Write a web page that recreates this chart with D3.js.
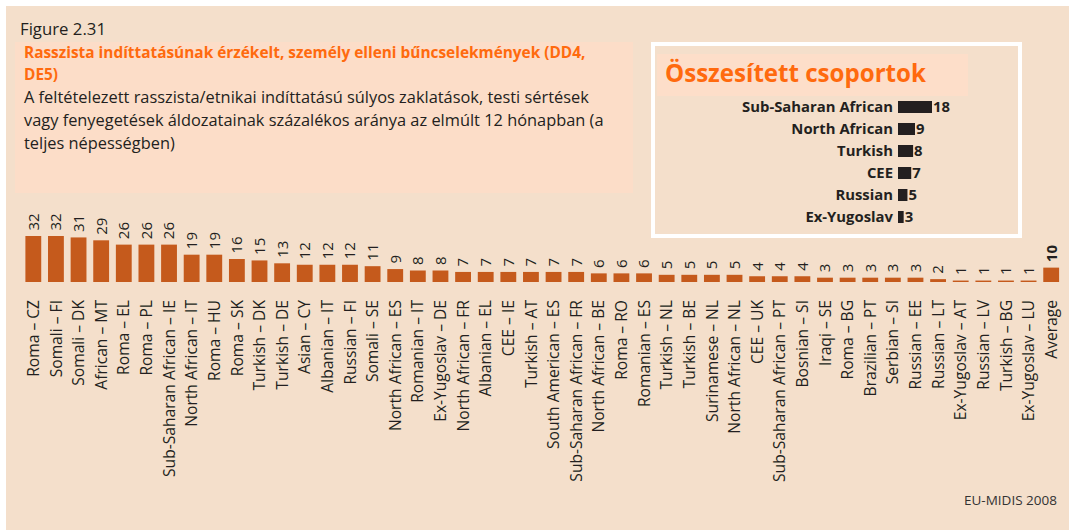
<!DOCTYPE html>
<html><head><meta charset="utf-8">
<script src="https://cdn.jsdelivr.net/npm/d3@7"></script>
<style>
html,body{margin:0;padding:0;background:#fff;}
svg{display:block;font-family:"Open Sans", Lato, sans-serif;}
</style></head>
<body>
<svg id="chart" width="1069" height="530"></svg>
<script>
const categories = ["Roma – CZ","Somali – FI","Somali – DK","African – MT","Roma – EL","Roma – PL","Sub-Saharan African – IE","North African – IT","Roma – HU","Roma – SK","Turkish – DK","Turkish – DE","Asian – CY","Albanian – IT","Russian – FI","Somali – SE","North African – ES","Romanian – IT","Ex-Yugoslav – DE","North African – FR","Albanian – EL","CEE – IE","Turkish – AT","South American – ES","Sub-Saharan African – FR","North African – BE","Roma – RO","Romanian – ES","Turkish – NL","Turkish – BE","Surinamese – NL","North African – NL","CEE – UK","Sub-Saharan African – PT","Bosnian – SI","Iraqi – SE","Roma – BG","Brazilian – PT","Serbian – SI","Russian – EE","Russian – LT","Ex-Yugoslav – AT","Russian – LV","Turkish – BG","Ex-Yugoslav – LU","Average"];
const values = [32,32,31,29,26,26,26,19,19,16,15,13,12,12,12,11,9,8,8,7,7,7,7,7,7,6,6,6,5,5,5,5,4,4,4,3,3,3,3,3,2,1,1,1,1,10];
const groupNames = ["Sub-Saharan African","North African","Turkish","CEE","Russian","Ex-Yugoslav"];
const groupValues = [18,9,8,7,5,3];
const figureLabel = "Figure 2.31";
const titleLines = ["Rasszista indíttatásúnak érzékelt, személy elleni bűncselekmények (DD4,","DE5)"];
const subtitleLines = ["A feltételezett rasszista/etnikai indíttatású súlyos zaklatások, testi sértések","vagy fenyegetések áldozatainak százalékos aránya az elmúlt 12 hónapban (a","teljes népességben)"];
const insetTitle = "Összesített csoportok";
const sourceText = "EU-MIDIS 2008";

const svg = d3.select("#chart");
const BG = "#F4DFCB", PANEL = "#FCDDC8", BAR = "#C55A1C", ORANGE = "#FF6A0E", INK = "#231F20";

function fit(sel, target){
  const w = sel.node().getComputedTextLength();
  const fs = parseFloat(sel.attr("font-size"));
  const nfs = fs*target/w;
  sel.attr("font-size", nfs);
  return nfs;
}

svg.append("rect").attr("x",6).attr("y",6).attr("width",1063).attr("height",524).attr("fill",BG);

// Title block
svg.append("rect").attr("x",15).attr("y",42).attr("width",618).attr("height",151).attr("fill",PANEL);
const fig = svg.append("text").attr("x",20).attr("y",35).attr("font-size",18).attr("fill",INK).text(figureLabel);
fit(fig, 86);
const tl = titleLines.map((t,i)=>svg.append("text").attr("x",24).attr("y",58+i*22).attr("font-size",16)
  .attr("font-weight","bold").attr("fill",ORANGE).text(t));
const tfs = fit(tl[0], 562); tl.forEach(s=>s.attr("font-size",tfs));
const sl = subtitleLines.map((t,i)=>svg.append("text").attr("x",24).attr("y",103+i*23).attr("font-size",16)
  .attr("fill",INK).text(t));
const sfs = fit(sl[0], 565); sl.forEach(s=>s.attr("font-size",sfs));

// Main bars
const x = d3.scaleBand().domain(categories).range([22,1062.5]).paddingInner(0.3).paddingOuter(0.15);
const y = d3.scaleLinear().domain([0,32]).range([282,236]);

svg.append("g").selectAll("rect").data(categories).join("rect")
  .attr("x",d=>x(d)).attr("y",(d,i)=>y(values[i])).attr("width",x.bandwidth())
  .attr("height",(d,i)=>y(0)-y(values[i])).attr("fill",BAR);

svg.append("g").selectAll("text").data(categories).join("text")
  .attr("transform",(d,i)=>`translate(${x(d)+x.bandwidth()/2},${y(values[i])-5.5}) rotate(-90)`)
  .attr("dy","0.36em").attr("font-size",15).attr("fill",INK).attr("text-anchor","start")
  .attr("font-weight",(d,i)=>i===categories.length-1?"bold":"normal")
  .text((d,i)=>values[i]);

const xAxis = d3.axisBottom(x).tickSize(0).tickPadding(0);
const ax = svg.append("g").attr("transform","translate(0,300)").call(xAxis);
ax.select(".domain").remove();
const axText = ax.selectAll("text").attr("transform","rotate(-90)").attr("text-anchor","end")
  .attr("x",0).attr("y",0).attr("dy","0.36em").attr("font-size",15)
  .attr("font-family","'Open Sans', Lato, sans-serif").attr("fill",INK);
const longest = axText.filter(d=>d==="Sub-Saharan African – IE");
const afs = fit(longest, 177); axText.attr("font-size", afs);

// Inset
svg.append("rect").attr("x",653).attr("y",44).attr("width",367).attr("height",192)
  .attr("fill",BG).attr("stroke","#fff").attr("stroke-width",4);
svg.append("rect").attr("x",657).attr("y",54).attr("width",311).attr("height",42).attr("fill","#FDDEC9");
const it = svg.append("text").attr("x",665).attr("y",82).attr("font-size",27).attr("font-weight","bold").attr("fill",ORANGE).text(insetTitle);
fit(it, 261);

const xi = d3.scaleLinear().domain([0,18]).range([898,932]);
const yi = d3.scaleBand().domain(groupNames).range([96,228]).paddingInner(0.4545).paddingOuter(0.227);
const gi = svg.append("g");
gi.selectAll("rect").data(groupNames).join("rect")
  .attr("x",xi(0)).attr("y",d=>yi(d)).attr("width",(d,i)=>xi(groupValues[i])-xi(0)).attr("height",yi.bandwidth()).attr("fill",INK);
const ayi = d3.axisLeft(yi).tickSize(0).tickPadding(0);
const ag = svg.append("g").attr("transform","translate(893,0)").call(ayi);
ag.select(".domain").remove();
const agText = ag.selectAll("text").attr("font-size",16).attr("font-weight","bold").attr("fill",INK)
  .attr("font-family","'Open Sans', Lato, sans-serif").attr("dy","0.36em");
const gfs = fit(agText.filter(d=>d==="Sub-Saharan African"), 151); agText.attr("font-size", gfs);
gi.selectAll("text.v").data(groupNames).join("text").attr("class","v")
  .attr("x",(d,i)=>xi(groupValues[i])+1).attr("y",d=>yi(d)+yi.bandwidth()/2).attr("dy","0.36em")
  .attr("font-size",gfs).attr("font-weight","bold").attr("fill",INK).text((d,i)=>groupValues[i]);

const src = svg.append("text").attr("x",964).attr("y",505).attr("font-size",14).attr("fill","#333").text(sourceText);
fit(src, 93);
</script>
</body></html>
